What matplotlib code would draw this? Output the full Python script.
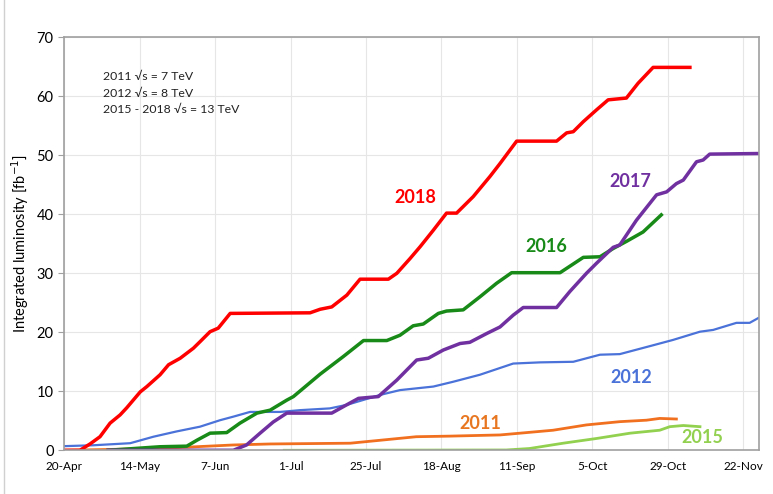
import matplotlib
matplotlib.use("Agg")
import matplotlib.pyplot as plt
from matplotlib.patches import Rectangle

plt.rcParams['font.family'] = ['Lato', 'DejaVu Sans']

# days counted from 20-Apr
tick_days = [0, 24, 48, 72, 96, 120, 144, 168, 192, 216]
tick_labels = ['20-Apr', '14-May', '7-Jun', '1-Jul', '25-Jul', '18-Aug', '11-Sep', '5-Oct', '29-Oct', '22-Nov']

d2011 = [0, 30, 53.8, 65.5, 91, 101.5, 112, 122.7, 138.6, 145, 155.5, 166.1, 176.7, 185.2, 189.4, 194.7]
v2011 = [0, 0.3, 0.9, 1.07, 1.2, 1.75, 2.3, 2.4, 2.6, 2.9, 3.4, 4.3, 4.85, 5.1, 5.4, 5.3]

d2012 = [0, 9.3, 21, 28.4, 35.8, 43.2, 49.6, 53.8, 59.1, 68.7, 75, 84.5, 89.9, 100.6, 106.8,
         117.4, 123.6, 132.2, 142.8, 151.3, 161.9, 170.4, 176.7, 187.3, 193.6, 202.2, 206.4,
         213.8, 218, 220.7]
v2012 = [0.7, 0.85, 1.2, 2.3, 3.2, 4.0, 5.1, 5.7, 6.5, 6.5, 6.8, 7.1, 7.7, 9.4, 10.2,
         10.8, 11.6, 12.8, 14.7, 14.9, 15, 16.2, 16.3, 17.8, 18.7, 20.1, 20.4,
         21.6, 21.6, 22.4]

d2015 = [70, 140.7, 148, 158.7, 169.3, 180, 189.4, 192.6, 196.9, 202.2]
v2015 = [0, 0.05, 0.3, 1.2, 2.0, 2.9, 3.4, 4.0, 4.2, 4.0]

d2016 = [14, 30.5, 39, 42.2, 46.4, 51.7, 55.9, 61.3, 65.5, 70.8, 72.9, 81.4, 88.8, 95.2, 102.6,
         106.8, 111, 114.2, 119, 121.6, 126.9, 132.2, 137.5, 142.3, 157.7, 165.1, 170.4,
         174.6, 178.8, 184.1, 189.9]
v2016 = [0, 0.6, 0.7, 1.7, 2.9, 3.0, 4.6, 6.3, 6.8, 8.5, 9.1, 12.9, 15.9, 18.6, 18.6,
         19.5, 21.1, 21.4, 23.2, 23.6, 23.8, 26, 28.3, 30.1, 30.1, 32.7, 32.8,
         34.2, 35.4, 37, 39.9]

d2017 = [14, 53.8, 58, 62.3, 66.5, 70.8, 85.1, 88.8, 93.6, 99.9, 105.8, 112.1, 115.8, 120.6,
         125.9, 129, 134.4, 138.6, 142.8, 146, 156.6, 160.8, 166.1, 169.3, 174.6, 176.7, 182,
         188.4, 191.6, 194.7, 196.9, 201.1, 203.2, 205.3, 220.7]
v2017 = [0, 0, 0.9, 2.9, 4.8, 6.3, 6.3, 7.4, 8.8, 9.1, 11.9, 15.3, 15.6, 17,
         18.1, 18.3, 19.8, 20.9, 22.9, 24.2, 24.2, 26.9, 30, 31.7, 34.4, 34.8, 39,
         43.3, 43.8, 45.2, 45.8, 48.9, 49.2, 50.2, 50.3]

d2018 = [0, 5, 8.3, 11.4, 14.6, 17.8, 19.9, 24.2, 26.3, 30.5, 33.2, 36.9, 41.1, 43.2, 46.4, 49,
         52.8, 78.2, 81.4, 85.1, 89.9, 94.1, 103.1, 105.8, 110, 113.2, 117.4, 121.6, 124.8,
         130.1, 135.4, 138.6, 143.9, 156.6, 159.8, 161.9, 165.1, 169.3, 173, 178.8, 182.5,
         187.3, 199]
v2018 = [0, 0, 1.1, 2.3, 4.6, 6, 7.2, 9.9, 10.8, 12.8, 14.5, 15.6, 17.3, 18.4, 20.1, 20.7,
         23.2, 23.3, 23.9, 24.3, 26.3, 29, 29, 30, 32.5, 34.5, 37.3, 40.2, 40.2,
         43, 46.4, 48.6, 52.4, 52.4, 53.8, 54, 55.7, 57.7, 59.4, 59.7, 62.2,
         64.9, 64.9]

fig = plt.figure(figsize=(7.73, 4.94), dpi=100)
ax = fig.add_axes([0.083, 0.0885, 0.899, 0.836])

ax.plot(d2011, v2011, color='#f07020', lw=2)
ax.plot(d2012, v2012, color='#4a72d8', lw=1.6)
ax.plot(d2015, v2015, color='#92d050', lw=2)
ax.plot(d2016, v2016, color='#178a17', lw=2.5)
ax.plot(d2017, v2017, color='#7030a0', lw=2.5)
ax.plot(d2018, v2018, color='#ff0000', lw=2.5)

lab = dict(fontsize=13, fontweight='bold', ha='center', va='center')
ax.text(111.6, 42.8, '2018', color='#ff0000', **lab)
ax.text(180, 45.6, '2017', color='#7030a0', **lab)
ax.text(153.2, 34.6, '2016', color='#178a17', **lab)
ax.text(180.5, 12.4, '2012', color='#4a72d8', **lab)
ax.text(132.2, 4.6, '2011', color='#e87722', **lab)
ax.text(203.1, 2.2, '2015', color='#92d050', **lab)

ax.text(0.056, 0.918, '2011 \u221As = 7 TeV\n2012 \u221As = 8 TeV\n2015 - 2018 \u221As = 13 TeV',
        transform=ax.transAxes, fontsize=8.8, va='top', linespacing=1.6, color='#222222')

ax.set_xlim(0, 221)
ax.set_ylim(0, 70)
ax.set_xticks(tick_days)
ax.set_xticklabels(tick_labels, fontsize=8.5)
ax.set_yticks(range(0, 71, 10))
ax.tick_params(axis='y', labelsize=10.5, length=4, color='#a0a0a0')
ax.tick_params(axis='x', length=0, pad=8)
ax.grid(True, color='#e6e6e6', lw=0.8)
ax.set_axisbelow(True)
for s in ax.spines.values():
    s.set_color('#a0a0a0')
    s.set_linewidth(1.2)
ax.set_ylabel('Integrated luminosity [fb$^{-1}$]', fontsize=10.5, labelpad=4)

fig.patches.append(Rectangle((0.005, -0.01), 1.2, 1.2, transform=fig.transFigure,
                             fill=False, edgecolor='#d0d0d0', lw=1))

fig.savefig('out.png', dpi=100)
